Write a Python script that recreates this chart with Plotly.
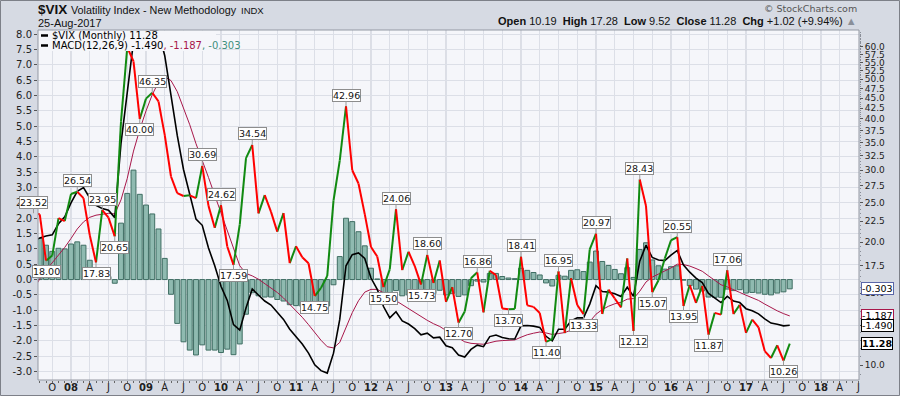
import math
import plotly.graph_objects as go

# ---------------- data ----------------
months = []
_y, _m = 2007, 7
for _ in range(122):
    months.append(f"{_y}-{_m:02d}")
    _m += 1
    if _m > 12:
        _m, _y = 1, _y + 1

close = [23.52, 23.38, 18.00, 18.53, 22.87, 22.50,
         26.20, 26.54, 25.61, 20.79, 17.83, 23.95, 22.94, 20.65, 39.39, 59.89, 55.28, 40.00,
         44.84, 46.35, 44.14, 36.50, 28.92, 26.35, 25.92, 26.01, 25.61, 30.69, 24.51, 21.68,
         24.62, 19.50, 17.59, 22.05, 32.07, 34.54, 23.50, 26.05, 23.70, 21.20, 23.54, 17.75,
         19.53, 18.35, 17.74, 14.75, 15.45, 16.52, 25.25, 31.62, 42.96, 29.96, 27.80, 23.40,
         19.44, 18.43, 15.50, 17.15, 24.06, 17.08, 18.93, 17.47, 15.73, 18.60, 15.87, 18.02,
         14.28, 15.51, 12.70, 13.52, 16.30, 16.86, 13.45, 17.01, 16.60, 13.75, 13.70, 13.72,
         18.41, 14.00, 13.88, 13.41, 11.40, 11.57, 16.95, 11.98, 16.31, 14.03, 13.33, 19.20,
         20.97, 13.34, 15.29, 14.55, 13.84, 18.23, 12.12, 28.43, 24.50, 15.07, 16.13, 18.21,
         20.20, 20.55, 13.95, 15.70, 14.19, 15.63, 11.87, 13.42, 13.29, 17.06, 13.33, 14.04,
         11.99, 12.92, 12.37, 10.82, 10.41, 11.18, 10.26, 11.28]

macd = [1.25, 1.36, 1.42, 1.46, 1.82, 2.05,
        2.50, 2.88, 3.00, 2.66, 2.42, 2.32, 2.26, 2.02, 4.44, 6.11, 7.76, 7.67,
        7.93, 8.17, 8.09, 7.30, 6.01, 4.70, 3.59, 2.75, 1.97, 1.77, 1.03, 0.45,
        -0.22, -0.68, -1.47, -1.65, -0.93, -0.31, -0.52, -0.70, -0.83, -1.07, -1.30, -1.62,
        -1.87, -2.10, -2.40, -2.78, -2.97, -3.05, -2.40, -1.30, 0.45, 0.81, 0.87, 0.69,
        0.05, -0.32, -0.88, -1.25, -1.05, -1.35, -1.45, -1.60, -1.80, -1.75, -1.90, -1.88,
        -2.16, -2.22, -2.46, -2.53, -2.28, -2.14, -2.19, -1.86, -1.81, -1.89, -1.93, -1.94,
        -1.51, -1.50, -1.52, -1.56, -1.85, -2.00, -1.62, -1.62, -1.35, -1.25, -1.25, -0.80,
        -0.20, -0.39, -0.41, -0.46, -0.55, -0.25, -0.55, 0.60, 1.12, 0.72, 0.64, 0.62,
        0.80, 0.95, 0.47, 0.24, 0.05, -0.10, -0.45, -0.60, -0.75, -0.55, -0.70, -0.75,
        -0.95, -1.02, -1.12, -1.28, -1.42, -1.46, -1.51, -1.490]

signal = [-0.32, 0.02, 0.30, 0.54, 0.80, 1.05,
          1.34, 1.65, 1.88, 2.03, 2.10, 2.14, 2.16, 2.14, 2.60, 3.30, 4.19, 4.89,
          5.50, 6.03, 6.44, 6.61, 6.49, 6.13, 5.62, 5.05, 4.43, 3.90, 3.33, 2.75,
          2.16, 1.59, 0.98, 0.45, 0.20, 0.12, 0.01, -0.13, -0.26, -0.42, -0.60, -0.80,
          -1.02, -1.23, -1.47, -1.73, -1.98, -2.19, -2.23, -2.05, -1.55, -1.08, -0.69, -0.41,
          -0.32, -0.32, -0.43, -0.60, -0.69, -0.82, -0.95, -1.08, -1.22, -1.33, -1.44, -1.53,
          -1.66, -1.77, -1.91, -2.03, -2.08, -2.09, -2.11, -2.06, -2.01, -1.99, -1.98, -1.97,
          -1.88, -1.80, -1.75, -1.71, -1.74, -1.79, -1.76, -1.73, -1.65, -1.57, -1.51, -1.37,
          -1.13, -0.98, -0.87, -0.79, -0.74, -0.64, -0.62, -0.38, -0.08, 0.08, 0.19, 0.28,
          0.38, 0.50, 0.49, 0.44, 0.36, 0.27, 0.12, -0.02, -0.17, -0.24, -0.34, -0.42,
          -0.51, -0.60, -0.68, -0.80, -0.92, -1.02, -1.111, -1.187]

hist = [1.57, 1.34, 1.12, 0.92, 1.02, 1.00,
        1.16, 1.23, 1.12, 0.63, 0.32, 0.18, 0.10, -0.12, 1.84, 2.81, 3.57, 2.78,
        2.43, 2.14, 1.65, 0.69, -0.48, -1.43, -2.03, -2.30, -2.46, -2.13, -2.30, -2.30,
        -2.38, -2.27, -2.45, -2.10, -1.13, -0.43, -0.53, -0.57, -0.57, -0.65, -0.70, -0.82,
        -0.85, -0.87, -0.93, -1.05, -0.99, -0.86, -0.17, 0.75, 2.00, 1.89, 1.56, 1.10,
        0.37, 0.02, -0.45, -0.65, -0.36, -0.53, -0.50, -0.52, -0.58, -0.42, -0.46, -0.35,
        -0.50, -0.45, -0.55, -0.50, -0.20, -0.05, -0.08, 0.20, 0.20, 0.10, 0.05, 0.03,
        0.37, 0.30, 0.23, 0.15, -0.11, -0.21, 0.14, 0.11, 0.30, 0.32, 0.26, 0.57,
        0.93, 0.59, 0.46, 0.33, 0.19, 0.39, 0.07, 0.98, 1.20, 0.64, 0.45, 0.34,
        0.42, 0.45, -0.02, -0.20, -0.31, -0.37, -0.57, -0.58, -0.58, -0.31, -0.36, -0.33,
        -0.44, -0.42, -0.44, -0.48, -0.50, -0.44, -0.40, -0.303]

# labelled turning points: (month, side)
peak_labels = [("2007-07", "up"), ("2007-09", "dn"), ("2008-02", "up"), ("2008-05", "dn"),
               ("2008-06", "up"), ("2008-08", "dn"), ("2008-12", "dn"), ("2009-02", "up"),
               ("2009-10", "up"), ("2010-01", "up"), ("2010-03", "dn"), ("2010-06", "up"),
               ("2011-04", "dn"), ("2011-09", "up"), ("2012-03", "dn"), ("2012-05", "up"),
               ("2012-09", "dn"), ("2012-10", "up"), ("2013-03", "dn"), ("2013-06", "up"),
               ("2013-11", "dn"), ("2014-01", "up"), ("2014-05", "dn"), ("2014-07", "up"),
               ("2014-11", "dn"), ("2015-01", "up"), ("2015-07", "dn"), ("2015-08", "up"),
               ("2015-10", "dn"), ("2016-02", "up"), ("2016-03", "dn"), ("2016-07", "dn"),
               ("2016-10", "up"), ("2017-07", "dn")]

price_ticks = [10.0, 12.5, 15.0, 17.5, 20.0, 22.5, 25.0, 27.5, 30.0, 32.5, 35.0, 37.5,
               40.0, 42.5, 45.0, 47.5, 50.0, 52.5, 55.0, 57.5, 60.0]
price_minor = [v / 2 for v in range(19, 131)]
macd_ticks = [v / 2 for v in range(-6, 17)]
month_letters = {1: None, 4: "A", 7: "J", 10: "O"}

# ---------------- layout constants ----------------
W, H = 900, 396
L, R, T, B = 38, 41, 30, 16
PW, PH = W - L - R, H - T - B
X_RANGE = [0.72, 132.08]
Y_RANGE = [-3.276, 8.14]
Y2_RANGE = [math.log10(9.195), math.log10(66.0)]

PAPER = "#d6dae3"
PLOT = "#f5f6fa"
GREEN = "#118a11"
RED = "#ff0000"
MAROON = "#a8174a"
TEAL_FILL = "#8fbab0"
TEAL_LINE = "#3f6e63"
FONT = "DejaVu Sans"
HFONT = "Liberation Sans"


def idx(label):
    y, m = map(int, label.split("-"))
    return (y - 2007) * 12 + (m - 7)


def px(xp):
    return (xp - L) / PW


def py(yp):
    return (H - B - yp) / PH


x = [idx(mo) for mo in months]

fig = go.Figure()

fig.add_trace(go.Bar(x=x, y=hist, width=0.78,
                     marker=dict(color=TEAL_FILL, line=dict(color=TEAL_LINE, width=1)),
                     yaxis="y", hoverinfo="skip"))
fig.add_trace(go.Scatter(x=x, y=signal, mode="lines", line=dict(color=MAROON, width=1), yaxis="y"))
fig.add_trace(go.Scatter(x=x, y=macd, mode="lines", line=dict(color="#000000", width=1.6), yaxis="y"))

gx, gy, rx, ry = [], [], [], []
for i in range(len(close) - 1):
    sx = [x[i], x[i + 1], None]
    sy = [close[i], close[i + 1], None]
    if close[i + 1] >= close[i]:
        gx += sx; gy += sy
    else:
        rx += sx; ry += sy
fig.add_trace(go.Scatter(x=gx, y=gy, mode="lines", line=dict(color=GREEN, width=2), yaxis="y2", connectgaps=False))
fig.add_trace(go.Scatter(x=rx, y=ry, mode="lines", line=dict(color=RED, width=2), yaxis="y2", connectgaps=False))

tickvals, ticktext = [], []
for k in range(3, 133, 3):
    yy = 2007 + (7 + k - 1) // 12
    mm = (7 + k - 1) % 12 + 1
    ticktext.append(f"<b>{yy % 100:02d}</b>" if mm == 1 else month_letters[mm])
    tickvals.append(k)

shapes = []
for k, t in zip(tickvals, ticktext):
    if t.startswith("<b>"):
        shapes.append(dict(type="line", xref="x", yref="paper", x0=k, x1=k, y0=0, y1=1,
                           line=dict(color="#c2c6d1", width=1), layer="below"))

shapes.append(dict(type="rect", xref="paper", yref="paper", x0=px(L + 0.5), x1=px(216), y0=py(51), y1=py(T + 0.5),
                   fillcolor=PLOT, line=dict(width=0), layer="above"))
for yy in (35.5, 45.5):
    shapes.append(dict(type="line", xref="paper", yref="paper", x0=px(41), x1=px(48), y0=py(yy), y1=py(yy),
                       line=dict(color="#000", width=2.5), layer="above"))
shapes.append(dict(type="rect", xref="paper", yref="paper", x0=0, x1=1, y0=0, y1=1,
                   line=dict(color="#9499a3", width=1), layer="above"))
shapes.append(dict(type="rect", xref="paper", yref="paper", x0=px(0.5), x1=px(W - 0.5), y0=py(H - 0.5), y1=py(0.5),
                   line=dict(color="#7d8088", width=1), layer="above"))

ann = []
for mo, side in peak_labels:
    i = idx(mo)
    v = close[months.index(mo)]
    a = dict(y=math.log10(v), yref="y2", text=f"{v:.2f}", showarrow=True, arrowhead=0, arrowwidth=1,
             arrowcolor="#9a9a9a", ax=0, ay=(-11 if side == "up" else 11), standoff=0,
             bgcolor="#ffffff", bordercolor="#8d8d8d", borderwidth=1, borderpad=0,
             font=dict(family=FONT, size=9.5, color="#111"))
    if i < X_RANGE[0]:
        a.update(x=(i - X_RANGE[0]) / (X_RANGE[1] - X_RANGE[0]), xref="paper")
    else:
        a.update(x=i, xref="x")
    ann.append(a)

last = len(close) - 1
for val, ref, col, bold in [(hist[last], "y", "#5a66a8", False), (signal[last], "y", MAROON, False),
                            (macd[last], "y", "#000000", False), (close[last], "y2", "#000000", True)]:
    txt = f"{val:.3f}" if ref == "y" else f"{val:.2f}"
    if bold:
        txt = f"<b>{txt}</b>"
    ann.append(dict(x=px(861), xref="paper", y=(val if ref == "y" else math.log10(val)), yref=ref,
                    text=txt, showarrow=False, xanchor="left", yanchor="middle",
                    bgcolor="#ffffff", bordercolor=col, borderwidth=1, borderpad=0,
                    font=dict(family=FONT, size=9.5, color="#000")))

ann.append(dict(x=px(50), y=py(35.5), xref="paper", yref="paper", xanchor="left", yanchor="middle", showarrow=False,
                text="$VIX (Monthly) 11.28", font=dict(family=FONT, size=10, color="#000")))
ann.append(dict(x=px(50), y=py(45.5), xref="paper", yref="paper", xanchor="left", yanchor="middle", showarrow=False,
                text=f"MACD(12,26,9) {macd[last]:.3f}<span style='color:{MAROON}'>, {signal[last]:.3f}</span>"
                     f"<span style='color:#3f8f7e'>, {hist[last]:.3f}</span>",
                font=dict(family=FONT, size=10, color="#000")))

ann.append(dict(x=px(36), y=py(10), xref="paper", yref="paper", xanchor="left", yanchor="middle", showarrow=False,
                text="<b>$VIX</b>", font=dict(family=HFONT, size=13.5, color="#111")))
ann.append(dict(x=px(69), y=py(10), xref="paper", yref="paper", xanchor="left", yanchor="middle", showarrow=False,
                text="Volatility Index - New Methodology", font=dict(family=HFONT, size=10.8, color="#111")))
ann.append(dict(x=px(239), y=py(10.5), xref="paper", yref="paper", xanchor="left", yanchor="middle", showarrow=False,
                text="INDX", font=dict(family=HFONT, size=9.5, color="#111")))
ann.append(dict(x=px(36), y=py(23), xref="paper", yref="paper", xanchor="left", yanchor="middle", showarrow=False,
                text="25-Aug-2017", font=dict(family=HFONT, size=11, color="#111")))
ann.append(dict(x=px(859), y=py(8.5), xref="paper", yref="paper", xanchor="right", yanchor="middle", showarrow=False,
                text="© StockCharts.com", font=dict(family=FONT, size=9.5, color="#555")))
ann.append(dict(x=px(859), y=py(21), xref="paper", yref="paper", xanchor="right", yanchor="middle", showarrow=False,
                text="<b>Open</b> 10.19  <b>High</b> 17.28  <b>Low</b> 9.52  <b>Close</b> 11.28  "
                     "<b>Chg</b> +1.02 (+9.94%) <span style='color:#8a8f99'>▲</span>",
                font=dict(family=HFONT, size=11, color="#111")))

fig.update_layout(
    width=W, height=H, margin=dict(l=L, r=R, t=T, b=B, pad=0, autoexpand=False),
    paper_bgcolor=PAPER, plot_bgcolor=PLOT, showlegend=False, bargap=0,
    font=dict(family=FONT, size=10, color="#222"),
    xaxis=dict(range=X_RANGE, tickmode="array", tickvals=tickvals, ticktext=ticktext, automargin=False,
               showgrid=True, gridcolor="#dcdfe7", gridwidth=1, zeroline=False,
               ticks="", tickfont=dict(family=FONT, size=10, color="#222"),
               minor=dict(dtick=1, tick0=0, ticks="outside", ticklen=2, tickcolor="#666", showgrid=False),
               showline=False),
    yaxis=dict(range=Y_RANGE, tickmode="array", tickvals=macd_ticks, ticktext=[f"{v:.1f}" for v in macd_ticks],
               automargin=False,
               showgrid=True, gridcolor="#dcdfe7", zeroline=False, ticks="outside", ticklen=3,
               tickcolor="#555", tickfont=dict(family=FONT, size=10, color="#222"), showline=False),
    yaxis2=dict(type="log", range=Y2_RANGE, overlaying="y", side="right", tickmode="array", automargin=False,
                tickvals=price_ticks, ticktext=[f"{v:.1f}" for v in price_ticks], showgrid=False,
                zeroline=False, ticks="outside", ticklen=3, tickcolor="#555",
                minor=dict(tickmode="array", tickvals=price_minor, ticks="outside", ticklen=1,
                           tickcolor="#8a8e98", showgrid=False),
                tickfont=dict(family=FONT, size=9, color="#222"), showline=False),
    shapes=shapes, annotations=ann,
)

fig.write_html(
    "out.html",
    config={"displayModeBar": False, "staticPlot": True},
    post_script=("document.body.style.margin='0px';document.body.style.padding='0px';"
                 "document.body.style.overflow='hidden';document.documentElement.style.overflow='hidden';"),
)
